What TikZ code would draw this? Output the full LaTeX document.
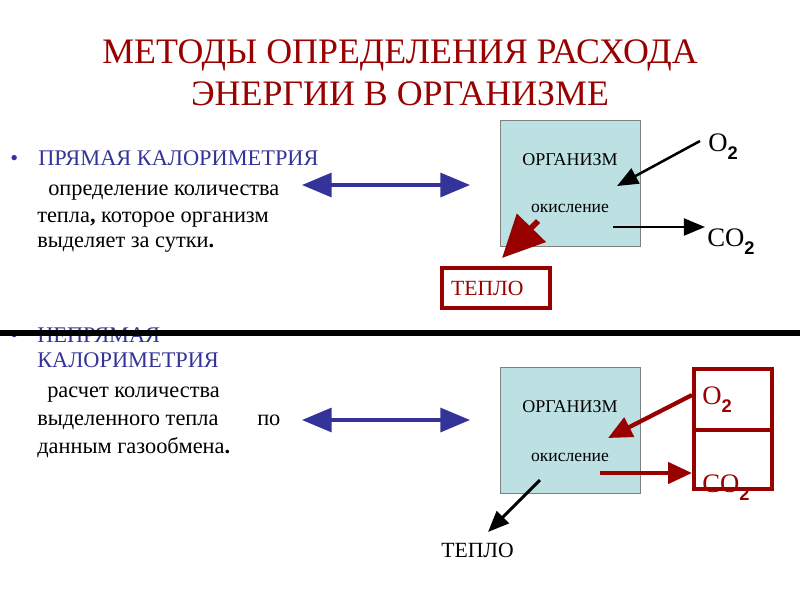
\documentclass[tikz,border=0pt]{standalone}
\usepackage{fontspec}
\setmainfont{Liberation Serif}
\newfontfamily\subsans{Liberation Sans}
\usetikzlibrary{arrows.meta}
\definecolor{titlered}{RGB}{153,0,0}
\definecolor{itemblue}{RGB}{51,51,153}
\definecolor{boxcyan}{RGB}{189,224,227}
\definecolor{boxgray}{RGB}{128,128,128}
\newcommand{\subtwo}{\raisebox{-0.3em}{\subsans\bfseries\fontsize{13pt}{13pt}\selectfont 2}}
\tikzset{
  orgbox/.style={draw=boxgray, fill=boxcyan, line width=1pt},
  bluearr/.style={itemblue, line width=2.2pt, {Triangle[length=21pt,width=17pt]}-{Triangle[length=21pt,width=17pt]}},
  blkarr/.style={black, line width=1.8pt, -{Triangle[length=15pt,width=12pt]}},
  redarr/.style={titlered, line width=3pt, -{Triangle[length=17pt,width=15pt]}},
  txt/.style={anchor=base west, inner sep=0pt, font=\fontsize{15.9pt}{18pt}\selectfont},
  ttl/.style={titlered, font=\fontsize{25.5pt}{30pt}\selectfont, inner sep=0pt, anchor=base},
}
\begin{document}
\begin{tikzpicture}[x=0.025cm, y=-0.025cm]
  % Canvas
  \useasboundingbox (0,0) rectangle (800,600);
  % Title
  \node[ttl] (title1) at (400,63) {МЕТОДЫ ОПРЕДЕЛЕНИЯ РАСХОДА};
  \node[ttl] (title2) at (400,105) {ЭНЕРГИИ В ОРГАНИЗМЕ};
  % Left column: direct method
  \node[txt, itemblue] (bul1) at (10,165) {•};
  \node[txt, itemblue] (head1) at (38,165) {ПРЯМАЯ КАЛОРИМЕТРИЯ};
  \foreach \x/\y/\n/\t in {48/195/a/определение количества,
                           37/222/b/тепла{\bfseries,} которое организм,
                           37/247/c/выделяет за сутки{\bfseries.}} {
    \node[txt] (text1\n) at (\x,\y) {\t};
  }
  % Left column: indirect method
  \node[txt, itemblue] (bul2) at (10,342) {•};
  \node[txt, itemblue] (head2a) at (37,342) {НЕПРЯМАЯ};
  \node[txt, itemblue] (head2b) at (37,367) {КАЛОРИМЕТРИЯ};
  \foreach \x/\y/\n/\t in {47/397/a/расчет количества,
                           37/425/b/выделенного тепла,
                           257/425/c/по,
                           37/453/d/данным газообмена{\bfseries.}} {
    \node[txt] (text2\n) at (\x,\y) {\t};
  }
  % Separator (over the second heading)
  \draw[line width=3.6pt] (0,333) -- (800,333);
  % Double arrows
  \coordinate (l1) at (302,185); \coordinate (r1) at (470,185);
  \coordinate (l2) at (302,420); \coordinate (r2) at (470,420);
  \draw[bluearr] (l1) -- (r1);
  \draw[bluearr] (l2) -- (r2);

  % Upper scheme
  \node[orgbox, minimum width=140*0.025cm, minimum height=126*0.025cm, anchor=north west] (org1) at (500,120) {};
  \node[font=\fontsize{12.8pt}{15pt}\selectfont, inner sep=0pt] (orgname1) at (570,160) {ОРГАНИЗМ};
  \node[font=\fontsize{12.5pt}{15pt}\selectfont, inner sep=0pt] (ox1) at (570,208) {окисление};
  \node[font=\fontsize{19pt}{22pt}\selectfont, inner sep=0pt, anchor=base west] (o2a) at (708,151) {O\subtwo};
  \node[font=\fontsize{19pt}{22pt}\selectfont, inner sep=0pt, anchor=base west] (co2a) at (707,246) {CO\subtwo};
  \node[draw=titlered, line width=3pt, titlered, font=\fontsize{15.4pt}{18pt}\selectfont,
        minimum width=108*0.025cm, minimum height=40*0.025cm, anchor=north west,
        align=left, text width=90*0.025cm] (heat1) at (440,266) {ТЕПЛО};
  \coordinate (o2in1) at (617,186);
  \coordinate (o2out1) at (700,141);
  \coordinate (co2in1) at (613,227);
  \coordinate (co2out1) at (705,227);
  \coordinate (heatin1) at (538,221);
  \coordinate (heatout1) at (502,258);
  \draw[blkarr] (o2out1) -- (o2in1);
  \draw[blkarr] (co2in1) -- (co2out1);
  \draw[titlered, line width=4pt, -{Triangle[length=30pt,width=28pt]}] (heatin1) -- (heatout1);

  % Lower scheme
  \node[orgbox, minimum width=140*0.025cm, minimum height=126*0.025cm, anchor=north west] (org2) at (500,367) {};
  \node[font=\fontsize{12.8pt}{15pt}\selectfont, inner sep=0pt] (orgname2) at (570,407) {ОРГАНИЗМ};
  \node[font=\fontsize{12.5pt}{15pt}\selectfont, inner sep=0pt] (ox2) at (570,457) {окисление};
  \node[draw=titlered, line width=3pt, minimum width=78*0.025cm, minimum height=61*0.025cm, anchor=north west] (gas2a) at (692,367) {};
  \node[draw=titlered, line width=3pt, minimum width=78*0.025cm, minimum height=59*0.025cm, anchor=north west] (gas2b) at (692,428) {};
  \node[titlered, font=\fontsize{19pt}{22pt}\selectfont, inner sep=0pt, anchor=base west] (o2b) at (702,404) {O\subtwo};
  \node[titlered, font=\fontsize{19pt}{22pt}\selectfont, inner sep=0pt, anchor=base west] (co2b) at (702,492) {CO\subtwo};
  \node[font=\fontsize{15.4pt}{18pt}\selectfont, inner sep=0pt, anchor=base west] (heat2) at (441,557) {ТЕПЛО};
  \coordinate (o2in2) at (608,438);
  \coordinate (o2out2) at (692,395);
  \coordinate (co2in2) at (600,473);
  \coordinate (co2out2) at (692,473);
  \coordinate (heatin2) at (540,480);
  \coordinate (heatout2) at (488,532);
  \draw[redarr] (o2out2) -- (o2in2);
  \draw[redarr] (co2in2) -- (co2out2);
  \draw[blkarr, line width=2.2pt] (heatin2) -- (heatout2);
\end{tikzpicture}
\end{document}
